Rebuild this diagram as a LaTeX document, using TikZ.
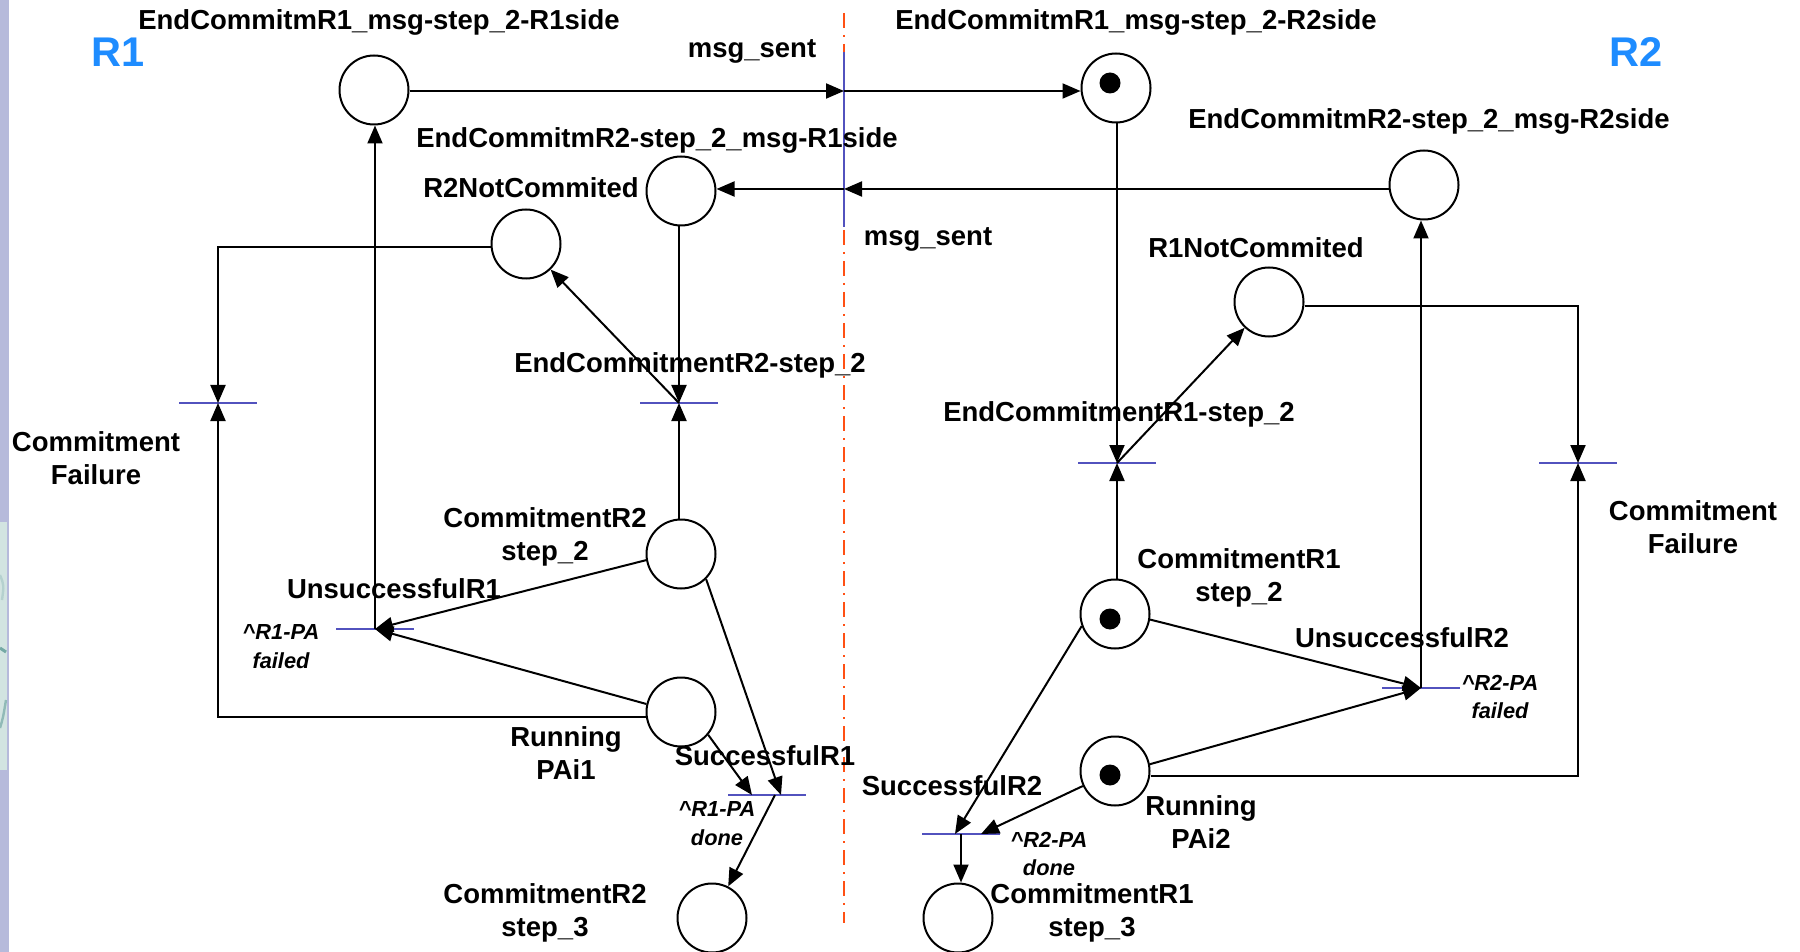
\documentclass[tikz,border=0pt]{standalone}
\usepackage{fontspec}
\setmainfont{Liberation Sans}
\usetikzlibrary{arrows.meta}
\definecolor{barblue}{RGB}{82,82,190}
\definecolor{titleblue}{RGB}{30,140,255}
\definecolor{divider}{RGB}{255,80,20}
\definecolor{stripcol}{RGB}{182,186,219}
\definecolor{patchcol}{RGB}{210,228,225}
\definecolor{patchdark}{RGB}{70,140,135}
\begin{document}
\begin{tikzpicture}[x=0.5pt,y=-0.5pt,
  place/.style={circle,draw,line width=1pt,minimum size=34.5pt,inner sep=0pt},
  token/.style={circle,fill=black,minimum size=10.5pt,inner sep=0pt},
  trans/.style={rectangle,fill=barblue,minimum width=39pt,minimum height=1.3pt,inner sep=0pt},
  vtrans/.style={rectangle,fill=barblue,minimum width=1.3pt,minimum height=87.5pt,inner sep=0pt},
  arr/.style={line width=1pt,-{Triangle[length=9pt,width=7.5pt]}},
  lab/.style={font=\fontsize{13.75}{16.5}\selectfont\bfseries,inner sep=0pt,align=center},
  note/.style={font=\fontsize{10.9}{14.4}\selectfont\bfseries\itshape,inner sep=0pt,align=center},
  side/.style={font=\fontsize{20.75}{24}\selectfont\bfseries,text=titleblue,inner sep=0pt}]

% canvas
\useasboundingbox (0,0) rectangle (1800,952);
\fill[white] (0,0) rectangle (1800,952);

% slide edge on the left
\fill[stripcol] (0,0) rectangle (9,952);
\fill[patchcol] (0,522) rectangle (7,770);
\draw[patchdark!40,line width=1.2pt] (0,575) .. controls (4,585) .. (2,600);
\draw[patchdark!75,line width=1.5pt] (0,648) -- (6,652);
\draw[patchdark!60,line width=1.2pt] (6,700) .. controls (3,718) .. (0,728);

% divider between the two sides
\coordinate (divTop) at (844,13);
\coordinate (divBot) at (844,923);
\draw[divider,line width=1.1pt,dash pattern=on 7.5pt off 3.5pt on 1pt off 3.5pt] (divTop) -- (divBot);

% side titles
\node[side] (r1) at (118,52) {R1};
\node[side] (r2) at (1636,52) {R2};

% message transition on the divider
\node[vtrans] (m1) at (844,139.5) {};

% places
\node[place] (P1) at (374,90) {};
\node[place] (P2) at (1116,88) {};
\node[place] (P3) at (681,191) {};
\node[place] (P4) at (526,244) {};
\node[place] (P5) at (1424,185) {};
\node[place] (P6) at (1269,302) {};
\node[place] (P7) at (681,554) {};
\node[place] (P8) at (681,712) {};
\node[place] (P9) at (712,918) {};
\node[place] (P10) at (1115,614) {};
\node[place] (P11) at (1115,771) {};
\node[place] (P12) at (958,918) {};

% tokens
\node[token] (k2) at (1110,83) {};
\node[token] (k10) at (1110,619) {};
\node[token] (k11) at (1110,775) {};

% transitions
\node[trans] (T1) at (218,403) {};
\node[trans] (T2) at (679,403) {};
\node[trans] (T3) at (1117,463) {};
\node[trans] (T4) at (1578,463) {};
\node[trans] (T5) at (375,629) {};
\node[trans] (T6) at (767,795) {};
\node[trans] (T7) at (1421,688) {};
\node[trans] (T8) at (961,834) {};

% messages across the divider
\draw[arr] (P1.east |- 0,91) -- (m1.center |- 0,91) coordinate (mA);
\draw[arr] (mA) -- (P2.west |- mA);
\draw[arr] (P5.west |- 0,189) -- (m1.center |- 0,189) coordinate (mB);
\draw[arr] (mB) -- (P3.east |- mB);

% R1 side
\draw[arr] (T2.center |- P3.south) -- (T2.center);
\draw[arr] (T2.center |- P7.north) -- (T2.center);
\draw[arr] (T2.center) -- (P4);
\draw[arr] (P4.west |- 0,247) -- (T1.center |- 0,247) -- (T1.center);
\draw[arr] (P8.west |- 0,717) -- (T1.center |- 0,717) -- (T1.center);
\draw[arr] (T5.center) -- (T5.center |- P1.south);
\draw[arr] (P7.190) -- (T5.center);
\draw[arr] (P8.167) -- (T5.center);
\draw[arr] (P7.-45) -- ([xshift=7pt]T6.center);
\draw[arr] (P8.-40) -- ([xshift=-7.5pt]T6.center);
\draw[arr] ([xshift=4pt]T6.center) -- (P9);

% R2 side
\draw[arr] (T3.center |- P2.south) -- (T3.center);
\draw[arr] (T3.center |- P10.north) -- (T3.center);
\draw[arr] (T3.center) -- (P6);
\draw[arr] (P6.east |- 0,306) -- (T4.center |- 0,306) -- (T4.center);
\draw[arr] (P11.east |- 0,776) -- (T4.center |- 0,776) -- (T4.center);
\draw[arr] (T7.center) -- (T7.center |- P5.south);
\draw[arr] (P10.-9) -- (T7.center);
\draw[arr] (P11.11) -- (T7.center);
\draw[arr] (P10.200) -- ([xshift=-3pt]T8.center);
\draw[arr] (P11.205) -- ([xshift=10pt]T8.center);
\draw[arr] (T8.center) -- (T8.center |- P12.north);

% labels
\node[lab] (a1) at (379,22) {EndCommitmR1\_msg-step\_2-R1side};
\node[lab] (a2) at (752,51) {msg\_sent};
\node[lab] (a3) at (1136,22) {EndCommitmR1\_msg-step\_2-R2side};
\node[lab] (a4) at (1429,121) {EndCommitmR2-step\_2\_msg-R2side};
\node[lab] (a5) at (657,140) {EndCommitmR2-step\_2\_msg-R1side};
\node[lab] (a6) at (531,188) {R2NotCommited};
\node[lab] (a7) at (928,239) {msg\_sent};
\node[lab] (a8) at (1256,248) {R1NotCommited};
\node[lab] (a9) at (690,365) {EndCommitmentR2-step\_2};
\node[lab] (a10) at (1119,414) {EndCommitmentR1-step\_2};
\node[lab] (a11) at (96,458) {Commitment\\Failure};
\node[lab] (a12) at (1693,527) {Commitment\\Failure};
\node[lab] (a13) at (545,537) {CommitmentR2\\step\_2};
\node[lab] (a14) at (1239,578) {CommitmentR1\\step\_2};
\node[lab] (a15) at (394,589) {UnsuccessfulR1};
\node[note] (a16) at (281,647) {\textasciicircum R1-PA\\failed};
\node[lab] (a17) at (1402,638) {UnsuccessfulR2};
\node[note] (a18) at (1500,697) {\textasciicircum R2-PA\\failed};
\node[lab] (a19) at (566,753) {Running\\PAi1};
\node[lab] (a20) at (765,756) {SuccessfulR1};
\node[note] (a21) at (717,824) {\textasciicircum R1-PA\\done};
\node[lab] (a22) at (952,786) {SuccessfulR2};
\node[lab] (a23) at (1201,822) {Running\\PAi2};
\node[note] (a24) at (1049,854) {\textasciicircum R2-PA\\done};
\node[lab] (a25) at (545,913) {CommitmentR2\\step\_3};
\node[lab] (a26) at (1092,913) {CommitmentR1\\step\_3};
\end{tikzpicture}
\end{document}
